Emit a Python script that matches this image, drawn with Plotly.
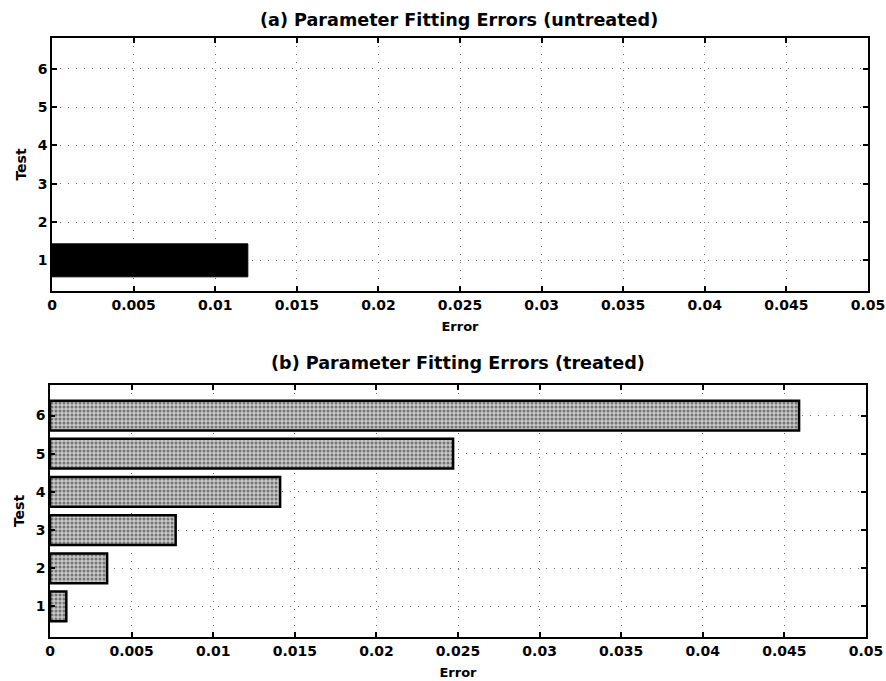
import plotly.graph_objects as go

tests = [1, 2, 3, 4, 5, 6]
untreated_tests = [1]
untreated_err = [0.012]
treated_err = [0.001, 0.0035, 0.0077, 0.0141, 0.0247, 0.0459]
x_ticks = [0, 0.005, 0.01, 0.015, 0.02, 0.025, 0.03, 0.035, 0.04, 0.045, 0.05]
x_tick_text = ["0", "0.005", "0.01", "0.015", "0.02", "0.025", "0.03", "0.035", "0.04", "0.045", "0.05"]

W, H = 886, 681
FONT = "DejaVu Sans"

fig = go.Figure()
fig.add_trace(go.Bar(
    y=untreated_tests, x=untreated_err, orientation="h", width=0.86,
    marker=dict(color="black", line=dict(color="black", width=1)),
    xaxis="x", yaxis="y", showlegend=False))
fig.add_trace(go.Bar(
    y=tests, x=treated_err, orientation="h", width=0.78,
    marker=dict(color="#b0b0b0", line=dict(color="black", width=2.5),
                pattern=dict(shape=".", fgcolor="#1e1e1e", bgcolor="#c8c8c8",
                             size=4, solidity=0.45)),
    xaxis="x2", yaxis="y2", showlegend=False))

GRID = dict(showgrid=True, gridcolor="#6a6a6a", griddash="1px,7px", gridwidth=1)

def xax(domain, anchor):
    return dict(domain=domain, anchor=anchor, range=[0, 0.05], tickvals=x_ticks,
                ticktext=x_tick_text, ticks="inside", ticklen=5, tickwidth=1.5, tickcolor="black",
                mirror="ticks", showline=True, linecolor="black", linewidth=1.5,
                zeroline=False, automargin=False, **GRID,
                tickfont=dict(size=14, color="black", family=FONT, weight="bold"),
                title=dict(text="Error", font=dict(size=13, color="black", family=FONT, weight="bold"),
                           standoff=10))

def yax(domain, anchor):
    return dict(domain=domain, anchor=anchor, range=[0.2, 6.8], tickvals=tests,
                ticks="inside", ticklen=5, tickwidth=1.5, tickcolor="black",
                mirror="ticks", showline=True, linecolor="black", linewidth=1.5,
                zeroline=False, automargin=False, **GRID,
                tickfont=dict(size=14, color="black", family=FONT, weight="bold"),
                title=dict(text="Test", font=dict(size=14, color="black", family=FONT, weight="bold"),
                           standoff=8))

fig.update_layout(
    width=W, height=H, margin=dict(l=0, r=0, t=0, b=0, autoexpand=False),
    paper_bgcolor="white", plot_bgcolor="white",
    font=dict(family=FONT, color="black"),
    xaxis=xax([52 / W, 868 / W], "y"),
    yaxis=yax([1 - 291 / H, 1 - 38 / H], "x"),
    xaxis2=xax([50 / W, 866 / W], "y2"),
    yaxis2=yax([1 - 637 / H, 1 - 385 / H], "x2"),
    annotations=[
        dict(text="(a) Parameter Fitting Errors (untreated)", x=459 / W, y=1 - 20 / H,
             xref="paper", yref="paper", showarrow=False, xanchor="center", yanchor="middle",
             font=dict(size=17.6, color="black", family=FONT, weight="bold")),
        dict(text="(b) Parameter Fitting Errors (treated)", x=458 / W, y=1 - 363 / H,
             xref="paper", yref="paper", showarrow=False, xanchor="center", yanchor="middle",
             font=dict(size=17.6, color="black", family=FONT, weight="bold")),
    ],
)

fig.write_html("out.html")
